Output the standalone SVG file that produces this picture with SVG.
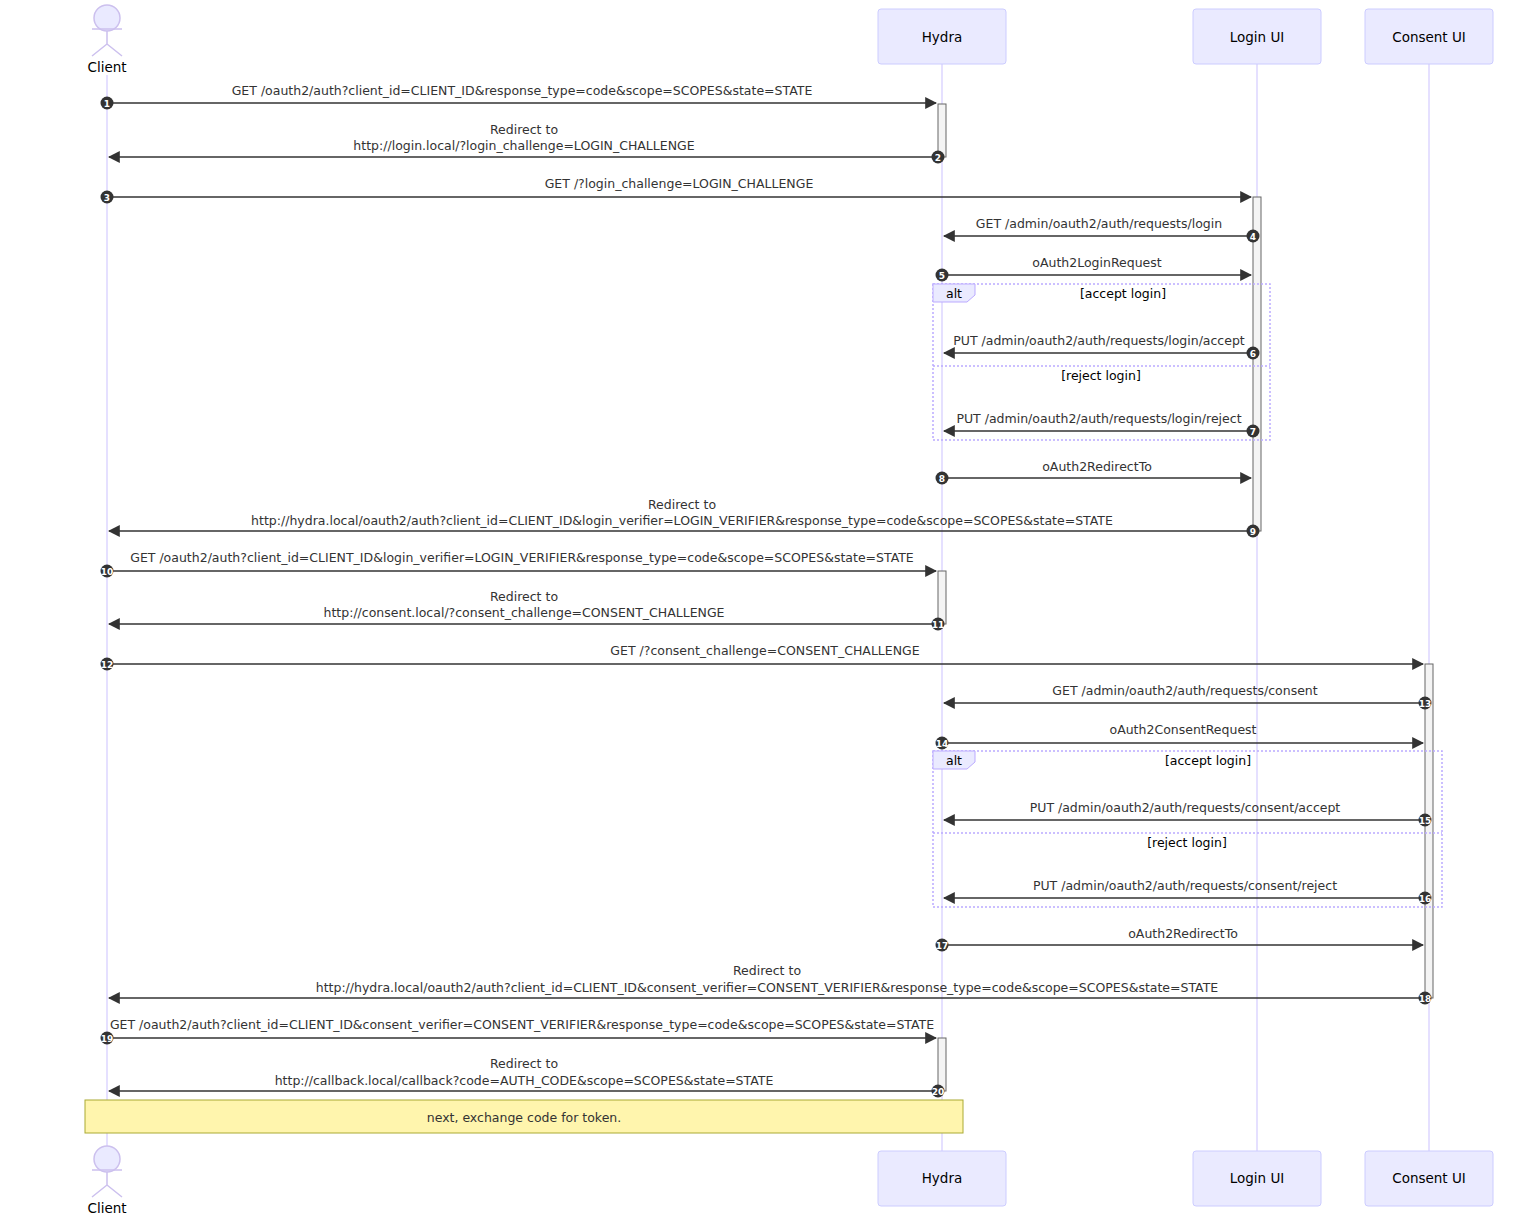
<svg xmlns="http://www.w3.org/2000/svg" width="1536" height="1216" viewBox="0 0 1536 1216">
<defs>
<style>
text{font-family:"DejaVu Sans",sans-serif;font-size:12.5px;fill:#333;text-anchor:middle}
.act{fill:#eaeaff;stroke:#ccccff;stroke-width:1}
.life{stroke:#ddd6ff;stroke-width:1.5}
.actv{fill:#f4f4f4;stroke:#666;stroke-width:1}
.msg{stroke:#333;stroke-width:1.5;fill:none;marker-end:url(#ah)}
.num circle{fill:#333}
.num text{fill:#fff;font-size:9px;font-weight:bold}
.alt{fill:none;stroke:#bbaaff;stroke-width:1.5;stroke-dasharray:2 2}
.stick{fill:none;stroke:#ccc0ee;stroke-width:1.5}
.fig{fill:#eaeaff;stroke:#ccc0ee;stroke-width:1.5}
.ac{font-size:13.5px;fill:#000}
</style>
<marker id="ah" viewBox="0 0 10 10" refX="9" refY="5" markerWidth="8" markerHeight="8" orient="auto-start-reverse"><path d="M0,0L10,5L0,10z" fill="#333"/></marker>
</defs>
<rect width="1536" height="1216" fill="#fff"/>
<g id="lifelines">
<line class="life" x1="107" y1="75" x2="107" y2="1150"/>
<line class="life" x1="942" y1="64" x2="942" y2="1151"/>
<line class="life" x1="1257" y1="64" x2="1257" y2="1151"/>
<line class="life" x1="1429" y1="64" x2="1429" y2="1151"/>
</g>
<g id="client">
<circle class="fig" cx="107" cy="18" r="13"/><path class="stick" d="M107,31V44M92,29H122M107,44L92,56M107,44L122,56"/>
<text class="ac" x="107" y="72">Client</text>
<circle class="fig" cx="107" cy="1159" r="13"/><path class="stick" d="M107,1172V1185M92,1170H122M107,1185L92,1197M107,1185L122,1197"/>
<text class="ac" x="107" y="1213">Client</text>
</g>
<g id="hydra"><rect class="act" x="878" y="9" width="128" height="55" rx="3"/><text class="ac" x="942" y="42">Hydra</text>
<rect class="act" x="878" y="1151" width="128" height="55" rx="3"/><text class="ac" x="942" y="1183">Hydra</text></g>
<g id="login"><rect class="act" x="1193" y="9" width="128" height="55" rx="3"/><text class="ac" x="1257" y="42">Login UI</text>
<rect class="act" x="1193" y="1151" width="128" height="55" rx="3"/><text class="ac" x="1257" y="1183">Login UI</text></g>
<g id="consent"><rect class="act" x="1365" y="9" width="128" height="55" rx="3"/><text class="ac" x="1429" y="42">Consent UI</text>
<rect class="act" x="1365" y="1151" width="128" height="55" rx="3"/><text class="ac" x="1429" y="1183">Consent UI</text></g>
<g id="activations">
<rect class="actv" x="938" y="104" width="8" height="53"/>
<rect class="actv" x="938" y="571" width="8" height="53"/>
<rect class="actv" x="938" y="1038" width="8" height="53"/>
<rect class="actv" x="1253" y="197" width="8" height="334"/>
<rect class="actv" x="1425" y="664" width="8" height="334"/>
</g>
<g id="alt1">
<rect class="alt" x="933" y="284" width="337" height="156"/>
<line class="alt" x1="933" y1="366" x2="1270" y2="366"/>
<path d="M933,284H975V295L967,302H933z" fill="#eaeaff" stroke="#bbaaff"/>
<text x="954" y="298" style="fill:#000">alt</text>
<text x="1123" y="298" style="fill:#000">[accept login]</text>
<text x="1101" y="380" style="fill:#000">[reject login]</text>
</g>
<g id="alt2">
<rect class="alt" x="933" y="751" width="509" height="156"/>
<line class="alt" x1="933" y1="833" x2="1442" y2="833"/>
<path d="M933,751H975V762L967,769H933z" fill="#eaeaff" stroke="#bbaaff"/>
<text x="954" y="765" style="fill:#000">alt</text>
<text x="1208" y="765" style="fill:#000">[accept login]</text>
<text x="1187" y="847" style="fill:#000">[reject login]</text>
</g>
<g id="connectors">
<line class="msg" x1="107" y1="103" x2="936" y2="103"/>
<line class="msg" x1="938" y1="157" x2="109" y2="157"/>
<line class="msg" x1="107" y1="197" x2="1251" y2="197"/>
<line class="msg" x1="1253" y1="236" x2="944" y2="236"/>
<line class="msg" x1="942" y1="275" x2="1251" y2="275"/>
<line class="msg" x1="1253" y1="353" x2="944" y2="353"/>
<line class="msg" x1="1253" y1="431" x2="944" y2="431"/>
<line class="msg" x1="942" y1="478" x2="1251" y2="478"/>
<line class="msg" x1="1253" y1="531" x2="109" y2="531"/>
<line class="msg" x1="107" y1="571" x2="936" y2="571"/>
<line class="msg" x1="938" y1="624" x2="109" y2="624"/>
<line class="msg" x1="107" y1="664" x2="1423" y2="664"/>
<line class="msg" x1="1425" y1="703" x2="944" y2="703"/>
<line class="msg" x1="942" y1="743" x2="1423" y2="743"/>
<line class="msg" x1="1425" y1="820" x2="944" y2="820"/>
<line class="msg" x1="1425" y1="898" x2="944" y2="898"/>
<line class="msg" x1="942" y1="945" x2="1423" y2="945"/>
<line class="msg" x1="1425" y1="998" x2="109" y2="998"/>
<line class="msg" x1="107" y1="1038" x2="936" y2="1038"/>
<line class="msg" x1="938" y1="1091" x2="109" y2="1091"/>
</g>
<g id="labels">
<text x="522" y="95">GET /oauth2/auth?client_id=CLIENT_ID&amp;response_type=code&amp;scope=SCOPES&amp;state=STATE</text>
<text x="524" y="134">Redirect to</text><text x="524" y="150">http://login.local/?login_challenge=LOGIN_CHALLENGE</text>
<text x="679" y="188">GET /?login_challenge=LOGIN_CHALLENGE</text>
<text x="1099" y="228">GET /admin/oauth2/auth/requests/login</text>
<text x="1097" y="267">oAuth2LoginRequest</text>
<text x="1099" y="345">PUT /admin/oauth2/auth/requests/login/accept</text>
<text x="1099" y="423">PUT /admin/oauth2/auth/requests/login/reject</text>
<text x="1097" y="471">oAuth2RedirectTo</text>
<text x="682" y="509">Redirect to</text><text x="682" y="525">http://hydra.local/oauth2/auth?client_id=CLIENT_ID&amp;login_verifier=LOGIN_VERIFIER&amp;response_type=code&amp;scope=SCOPES&amp;state=STATE</text>
<text x="522" y="562">GET /oauth2/auth?client_id=CLIENT_ID&amp;login_verifier=LOGIN_VERIFIER&amp;response_type=code&amp;scope=SCOPES&amp;state=STATE</text>
<text x="524" y="601">Redirect to</text><text x="524" y="617">http://consent.local/?consent_challenge=CONSENT_CHALLENGE</text>
<text x="765" y="655">GET /?consent_challenge=CONSENT_CHALLENGE</text>
<text x="1185" y="695">GET /admin/oauth2/auth/requests/consent</text>
<text x="1183" y="734">oAuth2ConsentRequest</text>
<text x="1185" y="812">PUT /admin/oauth2/auth/requests/consent/accept</text>
<text x="1185" y="890">PUT /admin/oauth2/auth/requests/consent/reject</text>
<text x="1183" y="938">oAuth2RedirectTo</text>
<text x="767" y="975">Redirect to</text><text x="767" y="992">http://hydra.local/oauth2/auth?client_id=CLIENT_ID&amp;consent_verifier=CONSENT_VERIFIER&amp;response_type=code&amp;scope=SCOPES&amp;state=STATE</text>
<text x="522" y="1029">GET /oauth2/auth?client_id=CLIENT_ID&amp;consent_verifier=CONSENT_VERIFIER&amp;response_type=code&amp;scope=SCOPES&amp;state=STATE</text>
<text x="524" y="1068">Redirect to</text><text x="524" y="1085">http://callback.local/callback?code=AUTH_CODE&amp;scope=SCOPES&amp;state=STATE</text>
</g>
<g id="numbers" class="num">
<circle cx="107" cy="103" r="6.5"/><text x="107" y="106.5">1</text>
<circle cx="938" cy="157" r="6.5"/><text x="938" y="160.5">2</text>
<circle cx="107" cy="197" r="6.5"/><text x="107" y="200.5">3</text>
<circle cx="1253" cy="236" r="6.5"/><text x="1253" y="239.5">4</text>
<circle cx="942" cy="275" r="6.5"/><text x="942" y="278.5">5</text>
<circle cx="1253" cy="353" r="6.5"/><text x="1253" y="356.5">6</text>
<circle cx="1253" cy="431" r="6.5"/><text x="1253" y="434.5">7</text>
<circle cx="942" cy="478" r="6.5"/><text x="942" y="481.5">8</text>
<circle cx="1253" cy="531" r="6.5"/><text x="1253" y="534.5">9</text>
<circle cx="107" cy="571" r="6.5"/><text x="107" y="574.5">10</text>
<circle cx="938" cy="624" r="6.5"/><text x="938" y="627.5">11</text>
<circle cx="107" cy="664" r="6.5"/><text x="107" y="667.5">12</text>
<circle cx="1425" cy="703" r="6.5"/><text x="1425" y="706.5">13</text>
<circle cx="942" cy="743" r="6.5"/><text x="942" y="746.5">14</text>
<circle cx="1425" cy="820" r="6.5"/><text x="1425" y="823.5">15</text>
<circle cx="1425" cy="898" r="6.5"/><text x="1425" y="901.5">16</text>
<circle cx="942" cy="945" r="6.5"/><text x="942" y="948.5">17</text>
<circle cx="1425" cy="998" r="6.5"/><text x="1425" y="1001.5">18</text>
<circle cx="107" cy="1038" r="6.5"/><text x="107" y="1041.5">19</text>
<circle cx="938" cy="1091" r="6.5"/><text x="938" y="1094.5">20</text>
</g>
<g id="note">
<rect x="85" y="1100" width="878" height="33" fill="#fff5ad" stroke="#aaaa33"/>
<text x="524" y="1122">next, exchange code for token.</text>
</g>
</svg>
